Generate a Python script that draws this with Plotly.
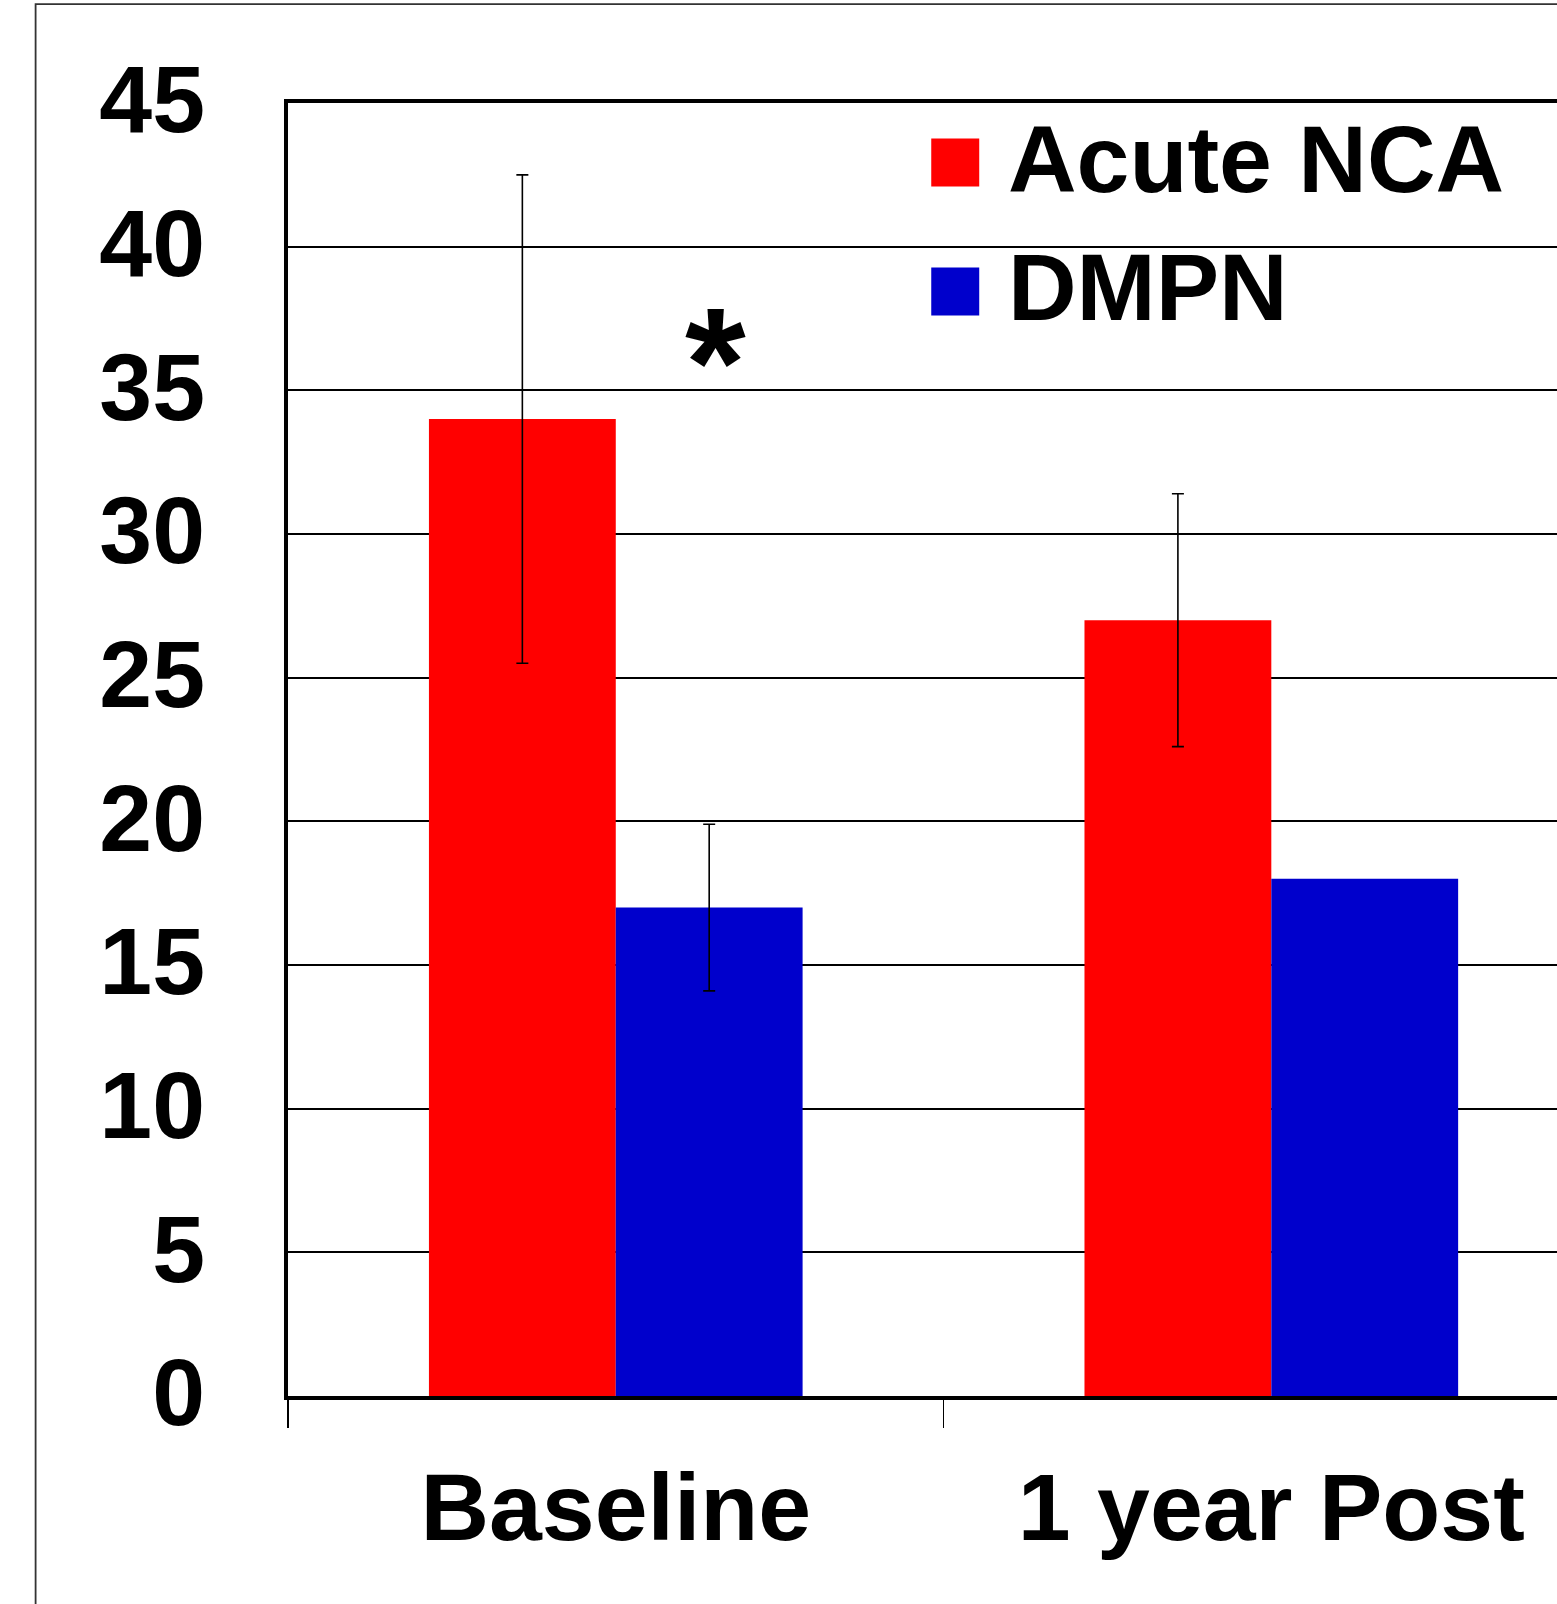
import plotly.graph_objects as go

categories = ["Baseline", "1 year Post"]
acute_nca = [34.0, 27.0]
acute_nca_err = [8.5, 4.4]
dmpn = [17.0, 18.0]
dmpn_err = [2.9]          # only Baseline has an error bar
y_ticks = [0, 5, 10, 15, 20, 25, 30, 35, 40, 45]
legend_names = ["Acute NCA", "DMPN"]
colors = ["#FF0000", "#0000CC"]

# page pixels (body margin removed via post_script below)
O = 0
PW, PH = 1557, 1604
W, H = PW - O, PH - O
L_page, T_page, Bot_page = 287.5, 102.5, 1396.0
L, T = L_page - O, T_page - O
B = H - (Bot_page - O)
pw, ph = W - L, H - T - B
CAT_W = 655.8

def px(x):
    return (x - O - L) / pw

def py(y):
    return (H - B - (y - O)) / ph

FONT = "Liberation Sans, Arial, sans-serif"

fig = go.Figure()
fig.add_trace(go.Bar(
    x=categories, y=acute_nca, name=legend_names[0], offsetgroup="a",
    marker=dict(color=colors[0], line=dict(width=0)),
    error_y=dict(type="data", array=acute_nca_err, color="black", thickness=1.6, width=6),
))
fig.add_trace(go.Bar(
    x=categories[:1], y=dmpn[:1], name=legend_names[1], offsetgroup="b",
    marker=dict(color=colors[1], line=dict(width=0)),
    error_y=dict(type="data", array=dmpn_err, color="black", thickness=1.6, width=6),
))
fig.add_trace(go.Bar(
    x=categories[1:], y=dmpn[1:], name=legend_names[1], offsetgroup="b",
    marker=dict(color=colors[1], line=dict(width=0)),
))

fig.update_layout(
    width=W, height=H,
    margin=dict(l=L, r=0, t=T, b=B, autoexpand=False),
    paper_bgcolor="white", plot_bgcolor="white",
    barmode="group", bargap=0.43, bargroupgap=0,
    showlegend=False,
    font=dict(family=FONT, color="black"),
)
fig.update_xaxes(
    range=[-0.5, -0.5 + pw / CAT_W],
    categoryorder="array", categoryarray=categories,
    showline=True, linecolor="black", linewidth=4, mirror=True,
    ticks="outside", tickson="boundaries", ticklen=28, tickwidth=1.6, tickcolor="black",
    tickfont=dict(family=FONT, size=95, weight="bold", color="black"),
    ticklabelstandoff=26,
    showgrid=False,
)
fig.update_yaxes(
    range=[0, 45], tickvals=y_ticks, ticktext=[str(v) for v in y_ticks],
    showline=True, linecolor="black", linewidth=4,
    ticks="inside", ticklen=28, tickwidth=2, tickcolor="black",
    showgrid=True, gridcolor="black", gridwidth=2,
    tickfont=dict(family=FONT, size=95, weight="bold", color="black"),
    ticklabelstandoff=60, ticklabelshift=-4,
    zeroline=False,
)

# outer frame
fig.add_shape(type="rect", xref="paper", yref="paper",
              x0=px(35), x1=px(PW + 40), y0=py(PH + 40), y1=py(3.5),
              line=dict(color="#333333", width=1.8), fillcolor="rgba(0,0,0,0)", layer="below")

# legend
leg_rows = [(138, 186), (267, 315)]
leg_text_y = [160, 288]
for i, name in enumerate(legend_names):
    y0, y1 = leg_rows[i]
    fig.add_shape(type="rect", xref="paper", yref="paper",
                  x0=px(931), x1=px(979), y0=py(y1), y1=py(y0),
                  line=dict(width=0), fillcolor=colors[i])
    fig.add_annotation(xref="paper", yref="paper", x=px(1006), y=py(leg_text_y[i] - 1),
                       text=name, showarrow=False, xanchor="left", yanchor="middle",
                       font=dict(family=FONT, size=95, weight="bold", color="black"))

# significance marker
fig.add_annotation(x=0.152, y=36.0, xref="x", yref="y", text="*", showarrow=False,
                   xanchor="center", yanchor="middle",
                   font=dict(family=FONT, size=156, weight="bold", color="black"))

fig.write_html("out.html",
               config={"displayModeBar": False, "staticPlot": True},
               post_script="document.body.style.margin='0px';document.body.style.overflow='hidden';")
